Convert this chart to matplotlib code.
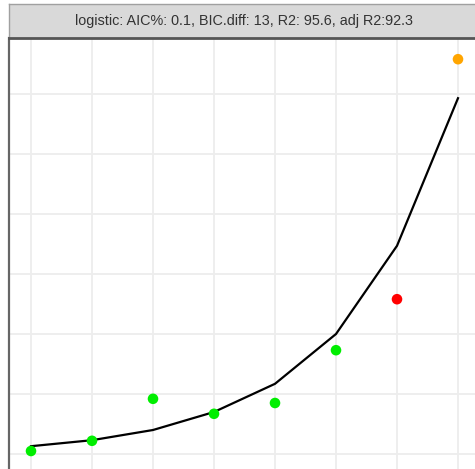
import matplotlib
matplotlib.use("Agg")
import matplotlib.pyplot as plt

# data
x_vals = [1, 2, 3, 4, 5, 6, 7, 8]
obs_y = [0.05, 0.22, 0.92, 0.67, 0.85, 1.73, 2.58, 6.58]
point_colors = ["#00ee00", "#00ee00", "#00ee00", "#00ee00", "#00ee00", "#00ee00", "#ff0000", "#ffa500"]
fit_y = [0.13, 0.23, 0.40, 0.70, 1.17, 2.00, 3.47, 5.93]
strip_title = "logistic: AIC%: 0.1, BIC.diff: 13, R2: 95.6, adj R2:92.3"

plt.rcParams['font.family'] = ['Liberation Sans', 'DejaVu Sans']

fig = plt.figure(figsize=(4.75, 4.69), dpi=100)
fig.patch.set_facecolor("white")

# panel
ax = fig.add_axes([9 / 475, 0.0, 470 / 475, 431 / 469])
ax.set_facecolor("white")
ax.set_xlim(1 - 22 / 61, 1 + 470 / 61 - 22 / 61)
ax.set_ylim(-15 / 60, 416 / 60)
ax.set_xticks(x_vals)
ax.set_yticks(range(0, 7))
ax.grid(True, color="#ededed", linewidth=1.3)
ax.set_axisbelow(True)
ax.tick_params(length=0, labelleft=False, labelbottom=False)
for side in ["top", "right", "bottom"]:
    ax.spines[side].set_visible(False)
ax.spines["left"].set_color("#666666")
ax.spines["left"].set_linewidth(1.6)

ax.plot(x_vals, fit_y, color="black", linewidth=1.6, zorder=3)
ax.scatter(x_vals, obs_y, c=point_colors, s=58, edgecolors="none", zorder=4)

# facet strip
strip = fig.add_axes([9 / 475, 431 / 469, 470 / 475, 34 / 469])
strip.set_xlim(0, 1)
strip.set_ylim(0, 1)
strip.set_facecolor("#d9d9d9")
strip.set_xticks([])
strip.set_yticks([])
for side in ["top", "right", "left"]:
    strip.spines[side].set_color("#a0a0a0")
    strip.spines[side].set_linewidth(1.0)
strip.spines["bottom"].set_color("#555555")
strip.spines["bottom"].set_linewidth(2.0)
strip.text(0.5, 0.5, strip_title, ha="center", va="center",
           fontsize=10.4, color="#333333", transform=strip.transAxes)

fig.savefig("out.png", dpi=100)
